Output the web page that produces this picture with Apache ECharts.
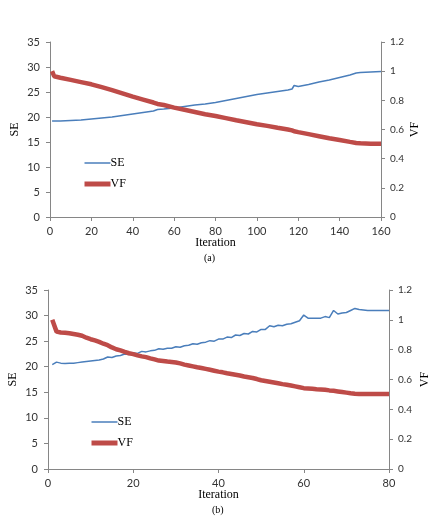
<!DOCTYPE html>
<html>
<head>
<meta charset="utf-8">
<script src="https://cdn.jsdelivr.net/npm/echarts@6/dist/echarts.min.js"></script>
<style>
html, body { margin: 0; padding: 0; background: #fff; }
#main { width: 433px; height: 518px; }
</style>
</head>
<body>
<div id="main"></div>
<script>
// chart (a)
var iterA = [1, 2, 5, 10, 15, 20, 25, 30, 35, 40, 45, 50, 52, 55, 60, 65, 70, 75, 80, 85, 90, 95, 100,
    105, 110, 115, 117, 118, 120, 125, 130, 135, 140, 145, 148, 150, 155, 160];
var seA = [19.2, 19.2, 19.2, 19.3, 19.4, 19.6, 19.8, 20.0, 20.3, 20.6, 20.9, 21.2, 21.5, 21.6, 21.8, 22.1, 22.4, 22.6, 22.9, 23.3, 23.7, 24.1, 24.5,
    24.8, 25.1, 25.4, 25.6, 26.3, 26.1, 26.5, 27.0, 27.4, 27.9, 28.4, 28.8, 28.9, 29.0, 29.1];
var vfA = [1.0, 0.965, 0.955, 0.94, 0.925, 0.91, 0.89, 0.87, 0.848, 0.825, 0.805, 0.785, 0.775, 0.768, 0.75, 0.735, 0.72, 0.705, 0.693, 0.678, 0.663, 0.65, 0.636,
    0.625, 0.612, 0.6, 0.594, 0.588, 0.582, 0.568, 0.554, 0.54, 0.528, 0.515, 0.508, 0.505, 0.503, 0.503];

// chart (b)
var iterB = [1, 2, 3, 4, 5, 6, 7, 8, 9, 10, 11, 12, 13, 14, 15, 16, 17, 18, 19, 20,
    21, 22, 23, 24, 25, 26, 27, 28, 29, 30, 31, 32, 33, 34, 35, 36, 37, 38, 39, 40,
    41, 42, 43, 44, 45, 46, 47, 48, 49, 50, 51, 52, 53, 54, 55, 56, 57, 58, 59, 60,
    61, 62, 63, 64, 65, 66, 67, 68, 69, 70, 71, 72, 73, 74, 75, 76, 77, 78, 79, 80];
var seB = [20.4, 20.9, 20.7, 20.65, 20.7, 20.7, 20.8, 20.9, 21.0, 21.1, 21.2, 21.3, 21.5, 21.9, 21.8, 22.1, 22.2, 22.5, 22.4, 22.7,
    22.6, 23.0, 22.9, 23.1, 23.2, 23.5, 23.4, 23.6, 23.6, 23.9, 23.8, 24.1, 24.2, 24.5, 24.4, 24.7, 24.8, 25.1, 25.0, 25.4,
    25.4, 25.8, 25.7, 26.2, 26.1, 26.5, 26.4, 26.9, 26.8, 27.3, 27.3, 28.0, 27.8, 28.1, 28.0, 28.3, 28.4, 28.7, 29.0, 30.1,
    29.5, 29.5, 29.5, 29.5, 29.8, 29.6, 31.0, 30.3, 30.5, 30.6, 31.0, 31.4, 31.2, 31.1, 31.0, 31.0, 31.0, 31.0, 31.0, 31.0];
var vfB = [1.0, 0.921, 0.915, 0.914, 0.91, 0.905, 0.9, 0.893, 0.88, 0.87, 0.862, 0.852, 0.84, 0.83, 0.815, 0.803, 0.795, 0.785, 0.776, 0.77,
    0.762, 0.755, 0.75, 0.742, 0.735, 0.727, 0.724, 0.72, 0.717, 0.714, 0.708, 0.7, 0.694, 0.688, 0.682, 0.677, 0.671, 0.665, 0.659, 0.653,
    0.648, 0.642, 0.637, 0.632, 0.627, 0.62, 0.615, 0.61, 0.603, 0.595, 0.59, 0.585, 0.58, 0.575, 0.569, 0.565, 0.56, 0.554, 0.548, 0.542,
    0.54, 0.538, 0.535, 0.533, 0.531, 0.527, 0.524, 0.52, 0.516, 0.512, 0.508, 0.505, 0.503, 0.502, 0.502, 0.502, 0.502, 0.502, 0.502, 0.502];

var SE_COLOR = '#4A7EBB', VF_COLOR = '#BE4B48', AXIS_COLOR = '#868686';
var serif = 'Liberation Serif', sans = 'Lato';

function pairs(xs, ys) {
    var out = [];
    for (var i = 0; i < xs.length; i++) out.push([xs[i], ys[i]]);
    return out;
}

function xAxis(grid, max, interval) {
    return {
        type: 'value', gridIndex: grid, min: 0, max: max, interval: interval,
        name: 'Iteration', nameLocation: 'middle', nameGap: 20, nameMoveOverlap: false,
        nameTextStyle: { fontFamily: serif, fontSize: 12, color: '#000' },
        axisLine: { lineStyle: { color: AXIS_COLOR } },
        axisTick: { length: 4, lineStyle: { color: AXIS_COLOR } },
        axisLabel: { margin: 9, fontFamily: sans, fontSize: 11, color: '#333' },
        splitLine: { show: false }
    };
}

function seAxis(grid) {
    return {
        type: 'value', gridIndex: grid, position: 'left', min: 0, max: 35, interval: 5,
        name: 'SE', nameLocation: 'middle', nameGap: 29, nameMoveOverlap: false,
        nameTextStyle: { fontFamily: serif, fontSize: 12, color: '#000' },
        axisLine: { show: true, lineStyle: { color: AXIS_COLOR } },
        axisTick: { show: true, length: 4, lineStyle: { color: AXIS_COLOR } },
        axisLabel: { margin: 10, fontFamily: sans, fontSize: 11, color: '#333' },
        splitLine: { show: false }
    };
}

function vfAxis(grid, gap) {
    return {
        type: 'value', gridIndex: grid, position: 'right', min: 0, max: 1.2, interval: 0.2,
        name: 'VF', nameLocation: 'middle', nameGap: gap, nameMoveOverlap: false,
        nameTextStyle: { fontFamily: serif, fontSize: 12, color: '#000' },
        axisLine: { show: true, lineStyle: { color: AXIS_COLOR } },
        axisTick: { show: true, length: 4, lineStyle: { color: AXIS_COLOR } },
        axisLabel: { margin: 9, fontFamily: sans, fontSize: 10, color: '#333',
            formatter: function (v) { return String(+v.toFixed(1)); } },
        splitLine: { show: false }
    };
}

function legendAt(left, top) {
    return {
        orient: 'vertical', left: left, top: top, padding: 0,
        itemWidth: 26, itemHeight: 12, itemGap: 9,
        itemStyle: { opacity: 0 },
        textStyle: { fontFamily: serif, fontSize: 12, color: '#000', padding: [0, 0, 0, -5] },
        data: [
            { name: 'SE', lineStyle: { width: 1.5, color: SE_COLOR } },
            { name: 'VF', lineStyle: { width: 5, color: VF_COLOR } }
        ]
    };
}

function line(name, x, y, data, color, width) {
    return {
        name: name, type: 'line', xAxisIndex: x, yAxisIndex: y, data: data,
        symbol: 'none', color: color,
        lineStyle: { width: width, color: color }
    };
}

var chart = echarts.init(document.getElementById('main'));
chart.setOption({
    animation: false,
    backgroundColor: '#fff',
    grid: [
        { left: 50, top: 42, width: 331, height: 175, outerBoundsMode: 'none' },
        { left: 48, top: 290, width: 341, height: 179, outerBoundsMode: 'none' }
    ],
    xAxis: [xAxis(0, 160, 20), xAxis(1, 80, 20)],
    yAxis: [seAxis(0), vfAxis(0, 28), seAxis(1), vfAxis(1, 30)],
    legend: [legendAt(82, 157), legendAt(89, 416)],
    graphic: [
        { type: 'text', left: 204, top: 253, style: { text: '(a)', fontFamily: serif, fontSize: 10, fill: '#000' } },
        { type: 'text', left: 212, top: 505, style: { text: '(b)', fontFamily: serif, fontSize: 10, fill: '#000' } }
    ],
    series: [
        line('SE', 0, 0, pairs(iterA, seA), SE_COLOR, 1.5),
        line('VF', 0, 1, pairs(iterA, vfA), VF_COLOR, 4.5),
        line('SE', 1, 2, pairs(iterB, seB), SE_COLOR, 1.5),
        line('VF', 1, 3, pairs(iterB, vfB), VF_COLOR, 4.5)
    ]
});
</script>
</body>
</html>
